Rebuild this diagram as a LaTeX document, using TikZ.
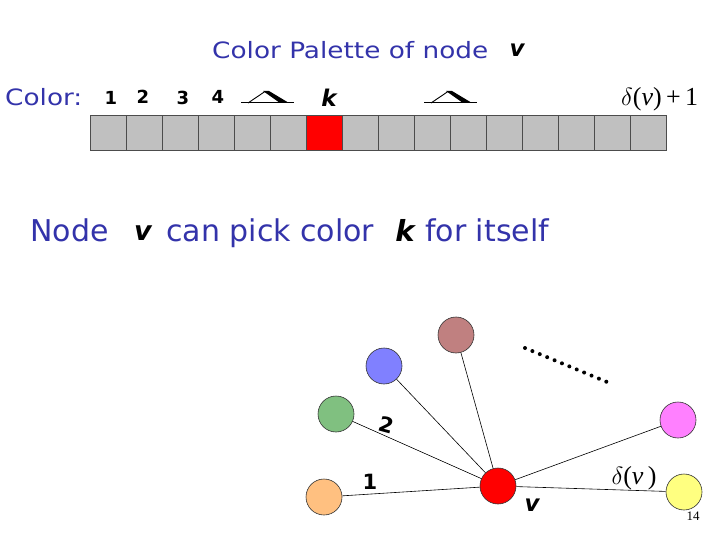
\documentclass[tikz,border=0pt]{standalone}
\usepackage{fontspec}
\setmainfont{DejaVu Sans}
\newfontfamily\widefont[FakeStretch=1.17]{DejaVu Sans}
\newfontfamily\serifnum{Liberation Serif}
\definecolor{txtblue}{RGB}{51,51,170}
\definecolor{cellgray}{RGB}{192,192,192}
\definecolor{corange}{RGB}{255,192,128}
\definecolor{cgreen}{RGB}{128,192,128}
\definecolor{cblue}{RGB}{128,128,255}
\definecolor{cbrown}{RGB}{192,128,128}
\definecolor{cmagenta}{RGB}{255,128,255}
\definecolor{cyellow}{RGB}{255,255,128}
\begin{document}
\begin{tikzpicture}[x=1pt,y=-1pt,
  bluetxt/.style={text=txtblue,font=\widefont\fontsize{22.5}{26}\selectfont,inner sep=0pt},
  bigtxt/.style={text=txtblue,font=\fontsize{30}{34}\selectfont,inner sep=0pt},
  symb/.style={font=\bfseries\itshape\fontsize{23}{26}\selectfont,inner sep=0pt},
  numb/.style={font=\bfseries\fontsize{18}{20}\selectfont,inner sep=0pt},
  cell/.style={draw=black!70,fill=cellgray,line width=0.6pt},
  vert/.style={circle,draw=black!80,line width=0.6pt,minimum size=36pt,inner sep=0pt},
  edge/.style={line width=0.6pt},
  caretbase/.style={line width=1pt}]
\useasboundingbox (0,0) rectangle (720,540);
% title
\node[bluetxt,anchor=base west] (title) at (212,59) {Color Palette of node};
\node[symb] (titlev) at (517,50) {v};
% color row
\node[bluetxt,anchor=base west] (colorlbl) at (5,106) {Color:};
\node[numb] (n1) at (111,98) {1};
\node[numb] (n2) at (143,97) {2};
\node[numb] (n3) at (183,98) {3};
\node[numb] (n4) at (218,97) {4};
\node[symb] (kk) at (329,98) {k};
% carets
\draw[caretbase] (241,103) -- (294,103);
\draw[line width=0.9pt] (248,103) -- (265,91.5);
\fill (263,91) -- (269,91) -- (289,103) -- (280,103) -- cycle;
\draw[caretbase] (424,103) -- (477,103);
\draw[line width=0.9pt] (431,103) -- (448,91.5);
\fill (446,91) -- (452,91) -- (472,103) -- (463,103) -- cycle;
\node[inner sep=0pt,anchor=base west,font=\serifnum\fontsize{26}{30}\selectfont] (dv1) at (621,106) {$\delta$(\textit{v})\,+\,1};
% palette cells
\foreach \i in {0,...,15}{
  \pgfmathsetmacro\xa{90+36*\i}
  \path[cell] (\xa,115) rectangle ++(36,35);
}
\path[cell,fill=red] (306,115) rectangle ++(36,35);
% sentence
\node[bigtxt,anchor=base west] (nodew) at (30,241) {Node};
\node[symb,font=\bfseries\itshape\fontsize{27}{30}\selectfont] (sv) at (143,233) {v};
\node[bigtxt,anchor=base west] (canpick) at (166,241) {can pick color};
\node[symb,font=\bfseries\itshape\fontsize{29}{32}\selectfont] (sk) at (405,230) {k};
\node[bigtxt,anchor=base west] (foritself) at (425,241) {for itself};
% graph
\node[vert,fill=red] (v) at (498,486) {};
\node[vert,fill=corange] (a) at (324,497) {};
\node[vert,fill=cgreen] (b) at (336,414) {};
\node[vert,fill=cblue] (c) at (384,366) {};
\node[vert,fill=cbrown] (d) at (456,335) {};
\node[vert,fill=cmagenta] (e) at (678,420) {};
\node[vert,fill=cyellow] (f) at (684,492) {};
\foreach \n in {a,b,c,d,e,f}{\draw[edge] (\n) -- (v);}
\node[numb,font=\bfseries\fontsize{21}{24}\selectfont] (l1) at (370,482) {1};
\node[numb,font=\bfseries\fontsize{21}{24}\selectfont,rotate=-15] (l2) at (387,425) {2};
\node[inner sep=0pt,font=\serifnum\fontsize{26}{30}\selectfont] (ldv) at (634,478) {$\delta$(\textit{v}\,)};
\node[symb] (lv) at (532,505) {v};
\coordinate (dotA) at (525,348);
\coordinate (dotB) at (607,382);
\draw[line width=4pt,line cap=round,dash pattern=on 0pt off 8pt] (dotA) -- (dotB);
\node[inner sep=0pt,font=\serifnum\fontsize{13}{15}\selectfont] (pg) at (693,516) {14};
\end{tikzpicture}
\end{document}
